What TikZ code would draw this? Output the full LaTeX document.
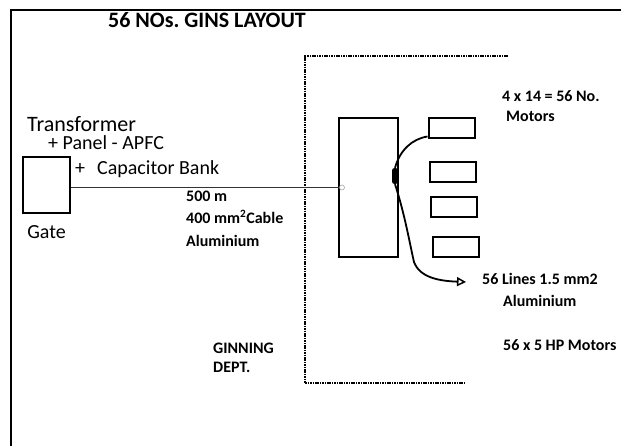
\documentclass[tikz,border=0pt]{standalone}
\usepackage{fontspec}
\setmainfont{Carlito}
\usetikzlibrary{arrows.meta,positioning}
\frenchspacing
\tikzset{
  titlelbl/.style={anchor=base, inner sep=0pt,
                   font=\fontsize{22}{24}\selectfont\bfseries},
  biglbl/.style  ={anchor=base west, inner sep=0pt,
                   font=\fontsize{20}{22}\selectfont},
  lbl/.style     ={anchor=base west, inner sep=0pt,
                   font=\fontsize{16}{18}\selectfont\bfseries},
  gatebox/.style ={draw, line width=2.4pt, inner sep=0pt,
                   minimum width=47pt, minimum height=56pt},
  panelbox/.style={draw, line width=2pt, inner sep=0pt,
                   minimum width=59pt, minimum height=139pt},
  motorbox/.style={draw, line width=2pt, inner sep=0pt,
                   minimum width=46pt, minimum height=20pt},
  joint/.style   ={draw=gray!70, circle, line width=0.6pt,
                   inner sep=0pt, minimum size=5pt},
  tap/.style     ={fill=black, rounded corners=2.5pt, inner sep=0pt,
                   minimum width=6pt, minimum height=16pt},
  %% lines
  frameline/.style={line width=2pt},
  deptline/.style ={line width=1.8pt, dash pattern=on 1.6pt off 0.8pt},
  cable/.style    ={line width=0.9pt, black!80},
  feed/.style     ={line width=1.8pt},
  arr/.style      ={-{Triangle[open,length=9pt,width=9pt,line width=1.5pt]}},
}
\begin{document}
\begin{tikzpicture}[x=1pt,y=-1pt,node distance=11pt]
  \useasboundingbox (0,0) rectangle (621,446);
  \draw[frameline] (11,446) -- (11,10) -- (621,10);
  \node[titlelbl] (title) at (207,28) {56 NOs. GINS LAYOUT};
  \draw[deptline] (508,56) -- (305,56) -- (305,383) -- (465,383);

  \node[gatebox] (gate) at (46.5,185) {};
  \node[biglbl, font=\fontsize{22}{24}\selectfont] (trafo) at (27,132) {Transformer};
  \node[biglbl] (apfc) at (48,150) {+ Panel - APFC};
  \node[biglbl] (capbank) at (75,175) {+\hspace{12pt}Capacitor Bank};
  \node[biglbl, below=11pt of gate] (gatelbl) {Gate};

  \node[panelbox] (panel) at (368.5,187.5) {};
  \node[joint] (jn) at ([xshift=4pt]panel.west) {};
  \draw[cable] (gate.east |- panel.west) -- (jn);
  \node[lbl] (len) at (186,202) {500 m};
  \node[lbl] (size) at (186,224) {400 mm\textsuperscript{2}Cable};
  \node[lbl] (metal) at (186,247) {Aluminium};

  \foreach \i/\x/\y in {1/451.5/128.5, 2/453/172.5, 3/453.5/207.5, 4/456/247.5}
    \node[motorbox] (m\i) at (\x,\y) {};
  \node[tap] (tap) at (395,176) {};
  \coordinate (lend) at (466,282);
  \draw[feed] (tap.north) .. controls (400,150) and (412,139) .. ([yshift=3pt]m1.south west);
  \draw[feed,arr] (tap.south) .. controls (405,215) and (410,245) .. (414,262)
    .. controls (420,278) and (440,281) .. (lend);

  \node[lbl] (count) at (502,102) {4 x 14 = 56 No.};
  \node[lbl] (motors) at (506,122) {Motors};
  \node[lbl] (lines) at (482,285) {56 Lines 1.5 mm2};
  \node[lbl] (linesal) at (503,307) {Aluminium};
  \node[lbl] (hp) at (503,350) {56 x 5 HP Motors};
  \node[lbl] (dept) at (213,353) {GINNING};
  \node[lbl] (deptb) at (213,372) {DEPT.};
\end{tikzpicture}
\end{document}
